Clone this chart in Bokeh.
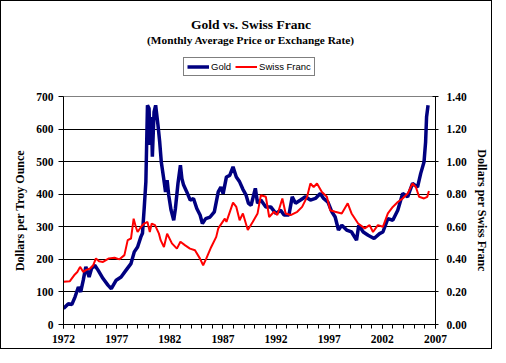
from bokeh.plotting import figure
from bokeh.layouts import column
from bokeh.models import (Range1d, LinearAxis, FixedTicker, Legend, LegendItem,
                          Label, NumeralTickFormatter)
from bokeh.embed import file_html
from bokeh.resources import INLINE

# ---- data ----
gold_year = [1972.0, 1972.46, 1972.78, 1973.09, 1973.4, 1973.62, 1973.86, 1974.1, 1974.41, 1974.64,
             1974.94, 1975.25, 1975.72, 1976.18, 1976.5, 1976.96, 1977.42, 1977.89, 1978.35, 1978.66,
             1978.97, 1979.28, 1979.43, 1979.59, 1979.75, 1979.9, 1980.05, 1980.15, 1980.27, 1980.36,
             1980.52, 1980.67, 1980.89, 1981.05, 1981.2, 1981.45, 1981.6, 1981.75, 1981.9, 1982.12,
             1982.37, 1982.53, 1982.77, 1983.0, 1983.14, 1983.3, 1983.6, 1983.92, 1984.23, 1984.54,
             1984.85, 1985.07, 1985.38, 1985.79, 1986.19, 1986.56, 1986.81, 1987.02, 1987.33, 1987.64,
             1987.95, 1988.26, 1988.57, 1988.88, 1989.18, 1989.4, 1989.65, 1990.05, 1990.26, 1990.57,
             1991.04, 1991.5, 1991.97, 1992.43, 1992.75, 1993.21, 1993.52, 1993.83, 1994.3, 1994.76,
             1995.23, 1995.7, 1996.16, 1996.47, 1996.88, 1997.25, 1997.56, 1997.87, 1998.18, 1998.64,
             1999.1, 1999.57, 1999.78, 2000.2, 2000.66, 2001.22, 2001.74, 2002.05, 2002.52, 2002.98,
             2003.45, 2003.91, 2004.38, 2004.84, 2005.31, 2005.61, 2005.92, 2006.07, 2006.16, 2006.3]
gold_price = [49, 64, 61, 85, 115, 100, 136, 177, 146, 172,
              182, 167, 141, 121, 110, 136, 146, 167, 187, 223,
              238, 269, 280, 356, 438, 673, 663, 551, 637, 515,
              653, 673, 612, 561, 499, 443, 407, 443, 397, 351,
              320, 356, 433, 489, 448, 428, 407, 382, 387, 356,
              336, 310, 325, 330, 346, 407, 422, 402, 453, 458,
              484, 453, 438, 415, 397, 372, 366, 418, 372, 382,
              361, 361, 341, 351, 336, 336, 392, 372, 382, 392,
              382, 387, 402, 387, 376, 346, 330, 290, 305, 290,
              284, 259, 305, 284, 274, 264, 279, 284, 325, 320,
              351, 402, 392, 433, 422, 464, 499, 561, 637, 673]

chf_year = [1972.0, 1972.6, 1973.0, 1973.3, 1973.56, 1973.86, 1974.1, 1974.5, 1974.8, 1975.05,
            1975.34, 1975.72, 1976.27, 1976.8, 1977.27, 1977.73, 1978.04, 1978.35, 1978.6, 1978.8,
            1978.97, 1979.3, 1979.59, 1979.9, 1980.12, 1980.3, 1980.61, 1980.98, 1981.14, 1981.45,
            1981.75, 1982.2, 1982.67, 1983.0, 1983.45, 1983.9, 1984.37, 1984.83, 1985.14, 1985.44,
            1985.9, 1986.37, 1986.56, 1987.18, 1987.33, 1987.95, 1988.26, 1988.57, 1988.88, 1989.34,
            1989.8, 1990.26, 1990.57, 1991.04, 1991.35, 1991.81, 1992.12, 1992.59, 1992.9, 1993.37,
            1993.99, 1994.45, 1994.92, 1995.23, 1995.54, 1995.85, 1996.31, 1996.78, 1997.09, 1997.56,
            1998.18, 1998.74, 1999.1, 1999.72, 2000.34, 2000.8, 2001.12, 2001.58, 2002.05, 2002.52,
            2002.98, 2003.45, 2003.91, 2004.38, 2004.84, 2005.15, 2005.46, 2005.92, 2006.23, 2006.38]
chf_rate = [0.262, 0.266, 0.302, 0.322, 0.354, 0.322, 0.334, 0.344, 0.364, 0.406,
            0.388, 0.384, 0.406, 0.41, 0.40, 0.426, 0.518, 0.528, 0.65, 0.60,
            0.568, 0.60, 0.62, 0.63, 0.568, 0.62, 0.61, 0.558, 0.518, 0.476,
            0.558, 0.498, 0.466, 0.508, 0.486, 0.466, 0.456, 0.406, 0.364, 0.406,
            0.476, 0.538, 0.59, 0.65, 0.63, 0.748, 0.722, 0.64, 0.682, 0.58,
            0.63, 0.682, 0.794, 0.784, 0.66, 0.692, 0.672, 0.774, 0.682, 0.672,
            0.692, 0.722, 0.784, 0.866, 0.844, 0.866, 0.814, 0.784, 0.702, 0.692,
            0.682, 0.744, 0.682, 0.62, 0.59, 0.61, 0.568, 0.61, 0.60, 0.682,
            0.722, 0.752, 0.774, 0.804, 0.866, 0.844, 0.784, 0.774, 0.784, 0.82]

left_ticks = [0, 100, 200, 300, 400, 500, 600, 700]
right_ticks = [0.0, 0.2, 0.4, 0.6, 0.8, 1.0, 1.2, 1.4]
year_labels = [1972, 1977, 1982, 1987, 1992, 1997, 2002, 2007]
year_minor = list(range(1972, 2008))

title_text = "Gold vs. Swiss Franc"
subtitle_text = "(Monthly Average Price or Exchange Rate)"
series_names = ["Gold", "Swiss Franc"]
series_colors = ["#000080", "#FF0000"]

SERIF = "Liberation Serif"
SANS = "Liberation Sans"
W = 490
HEAD_H = 85
MAIN_H = 262
BL, BR = 62, 51          # left / right borders around the plot frame

# ---------------- header: titles + legend ----------------
head = figure(width=W, height=HEAD_H, output_backend="svg", toolbar_location=None,
              x_range=Range1d(BL, W - BR), y_range=Range1d(0, HEAD_H),
              x_axis_type=None, y_axis_type=None,
              min_border_left=BL, min_border_right=BR,
              min_border_top=0, min_border_bottom=0)
head.outline_line_color = None
head.grid.visible = False
head.background_fill_color = "white"
head.border_fill_color = "white"

head.add_layout(Label(x=252, y=HEAD_H - 23, text=title_text, text_align="center",
                      text_baseline="middle", text_font=SERIF, text_font_style="bold",
                      text_font_size="13.5px", text_color="black"))
head.add_layout(Label(x=252, y=HEAD_H - 38, text=subtitle_text, text_align="center",
                      text_baseline="middle", text_font=SERIF, text_font_style="bold",
                      text_font_size="11.3px", text_color="black"))

# hidden copies of the series, only used to draw the legend swatches
lg_gold = head.line(gold_year, gold_price, line_color=series_colors[0], line_width=3.5,
                    visible=False)
lg_chf = head.line(chf_year, chf_rate, line_color=series_colors[1], line_width=2,
                   visible=False)
legend = Legend(items=[LegendItem(label=series_names[0], renderers=[lg_gold]),
                       LegendItem(label=series_names[1], renderers=[lg_chf])],
                orientation="horizontal", location=(182 - BL, HEAD_H - 75),
                label_text_font=SANS, label_text_font_size="9.5px",
                label_text_color="black", label_standoff=2,
                glyph_width=22, glyph_height=11, label_height=11,
                padding=3, spacing=4, margin=0,
                border_line_color="black", border_line_width=1,
                background_fill_color="white", background_fill_alpha=1,
                inactive_fill_alpha=0)
head.add_layout(legend, "center")

# ---------------- main chart ----------------
p = figure(width=W, height=MAIN_H, output_backend="svg", toolbar_location=None,
           x_range=Range1d(1972, 2007), y_range=Range1d(0, 700),
           min_border_left=BL, min_border_right=BR, min_border_bottom=24,
           min_border_top=10)
p.extra_y_ranges = {"chf": Range1d(0, 1.4)}
p.background_fill_color = "white"
p.border_fill_color = "white"
p.outline_line_color = "#808080"
p.outline_line_width = 1

p.xgrid.visible = False
p.ygrid.ticker = FixedTicker(ticks=[100, 200, 300, 400, 500, 600])
p.ygrid.grid_line_color = "black"
p.ygrid.grid_line_width = 1


def style_axis(ax):
    ax.axis_line_color = "black"
    ax.major_tick_line_color = "black"
    ax.minor_tick_line_color = "black"
    ax.major_tick_in = 0
    ax.major_tick_out = 4
    ax.minor_tick_in = 0
    ax.minor_tick_out = 4
    ax.major_label_text_font = SERIF
    ax.major_label_text_font_style = "bold"
    ax.major_label_text_font_size = "11.5px"
    ax.major_label_text_color = "black"
    ax.axis_label_text_font = SERIF
    ax.axis_label_text_font_style = "bold"
    ax.axis_label_text_font_size = "12px"
    ax.axis_label_text_color = "black"


ya = p.yaxis[0]
ya.ticker = FixedTicker(ticks=left_ticks)
ya.axis_label = "Dollars per Troy Ounce"
style_axis(ya)
ya.major_tick_out = 5
ya.major_label_standoff = 5
ya.axis_label_standoff = 6

ra = LinearAxis(y_range_name="chf", ticker=FixedTicker(ticks=right_ticks),
                formatter=NumeralTickFormatter(format="0.00"),
                axis_label="Dollars per Swiss Franc")
style_axis(ra)
ra.major_tick_in = 3
ra.major_tick_out = 3
ra.major_label_standoff = 8
ra.axis_label_standoff = 5
p.add_layout(ra, "right")

xa = p.xaxis[0]
xa.ticker = FixedTicker(ticks=year_labels, minor_ticks=year_minor)
style_axis(xa)
xa.major_label_standoff = 6

p.line(gold_year, gold_price, line_color=series_colors[0], line_width=3.5)
p.line(chf_year, chf_rate, line_color=series_colors[1], line_width=2, y_range_name="chf")

layout = column(head, p, spacing=0)
layout.styles = {"border": "1px solid black"}

open("out.html", "w").write(file_html(layout, INLINE))
